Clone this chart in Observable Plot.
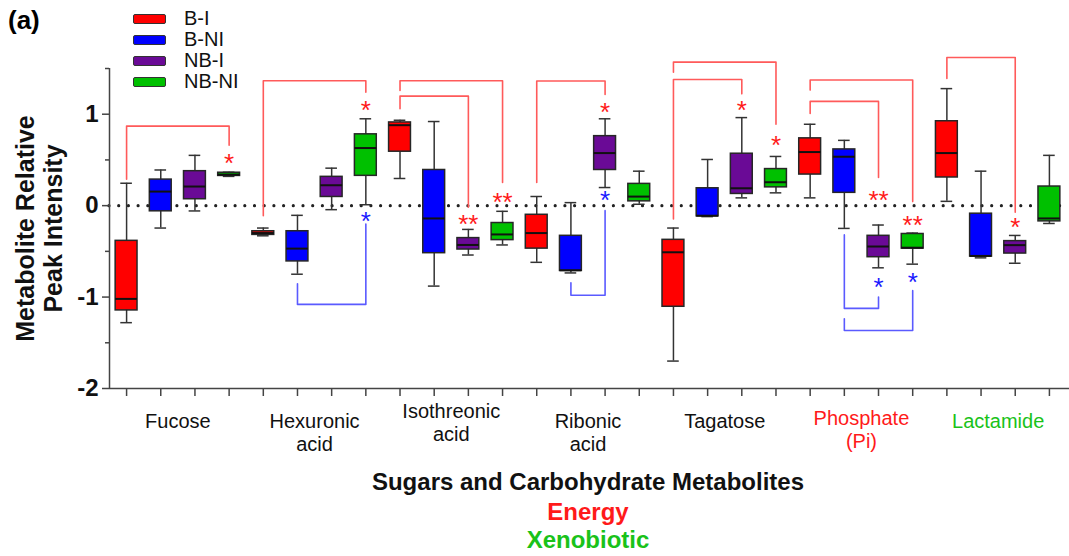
<!DOCTYPE html>
<html><head><meta charset="utf-8">
<script src="https://cdn.jsdelivr.net/npm/d3@7"></script>
<script src="https://cdn.jsdelivr.net/npm/@observablehq/plot@0.6"></script>
<style>
body{margin:0;background:#fff;font-family:"Liberation Sans",Arial,sans-serif;}
#wrap{position:relative;width:1069px;height:556px;overflow:hidden;background:#fff}
#tag{position:absolute;left:8px;top:5px;font-size:26px;font-weight:bold;color:#000}
#legend{position:absolute;left:133px;top:8px}
.item{display:flex;align-items:center;height:21px;font-size:20px;color:#111}
.sw{width:31px;height:8px;border:1.5px solid #333;border-radius:2px;margin-right:18px}
</style></head><body>
<div id="wrap"><div id="chart"></div><div id="tag">(a)</div><div id="legend"></div></div>
<script>
// ---------- data ----------
const categories = ["Fucose", "Hexuronic\nacid", "Isothreonic\nacid", "Ribonic\nacid", "Tagatose", "Phosphate\n(Pi)", "Lactamide"];
const categoryColors = ["#111", "#111", "#111", "#111", "#111", "#ff1a1a", "#19c219"];
const groups = ["B-I", "B-NI", "NB-I", "NB-NI"];
const groupColors = ["#ff0000", "#0000ff", "#6a0a96", "#00c000"];

// box statistics, 4 groups (B-I, B-NI, NB-I, NB-NI) per category
const whiskerLow = [
  -1.28, -0.245, -0.058, 0.32,     // Fucose
  -0.33, -0.75, -0.044, 0.01,      // Hexuronic acid
  0.297, -0.88, -0.54, -0.43,      // Isothreonic acid
  -0.62, -0.736, 0.198, 0.015,     // Ribonic acid
  -1.70, -0.12, 0.085, 0.14,       // Tagatose
  0.085, -0.249, -0.68, -0.64,     // Phosphate
  0.047, -0.571, -0.63, -0.195     // Lactamide
];
const quartile1 = [
  -1.146, -0.062, 0.07, 0.325,
  -0.32, -0.61, 0.095, 0.326,
  0.59, -0.52, -0.48, -0.377,
  -0.47, -0.714, 0.39, 0.047,
  -1.106, -0.117, 0.128, 0.20,
  0.34, 0.14, -0.564, -0.47,
  0.308, -0.557, -0.524, -0.172
];
const median = [
  -1.02, 0.154, 0.209, 0.34,
  -0.30, -0.47, 0.223, 0.63,
  0.88, -0.14, -0.43, -0.315,
  -0.30, -0.707, 0.575, 0.099,
  -0.51, -0.11, 0.19, 0.256,
  0.586, 0.535, -0.447, -0.46,
  0.575, -0.55, -0.432, -0.14
];
const quartile3 = [
  -0.385, 0.285, 0.377, 0.36,
  -0.28, -0.28, 0.315, 0.78,
  0.91, 0.39, -0.355, -0.19,
  -0.10, -0.33, 0.76, 0.238,
  -0.374, 0.19, 0.568, 0.40,
  0.736, 0.615, -0.33, -0.31,
  0.923, -0.088, -0.388, 0.209
];
const whiskerHigh = [
  0.245, 0.39, 0.55, 0.365,
  -0.245, -0.106, 0.41, 0.95,
  0.934, 0.92, -0.26, -0.062,
  0.10, 0.033, 0.95, 0.377,
  -0.245, 0.505, 0.963, 0.538,
  0.89, 0.714, -0.212, -0.30,
  1.28, 0.377, -0.326, 0.55
];

// significance brackets: box index from -> to, leg ends and bar level
const bracketFrom    = [0, 4, 8, 8, 12, 16, 16, 20, 20, 24, 5, 13, 21, 21];
const bracketTo      = [3, 7, 11, 10, 14, 19, 18, 23, 22, 26, 7, 14, 22, 23];
const bracketFromEnd = [0.29, -0.11, 1.26, 1.06, 0.253, 1.46, -0.146, 1.264, 1.008, 1.39, -0.854, -0.843, -0.32, -1.238];
const bracketLevel   = [0.87, 1.366, 1.366, 1.198, 1.363, 1.57, 1.38, 1.374, 1.14, 1.62, -1.08, -0.98, -1.124, -1.366];
const bracketToEnd   = [0.66, 1.24, 0.253, -0.018, 1.216, 0.89, 1.223, 0.044, 0.308, -0.073, -0.2, -0.055, -1.0, -0.93];
const bracketKind    = ["I","I","I","I","I","I","I","I","I","I","NI","NI","NI","NI"];

// asterisks
const starBox   = [3, 7, 10, 11, 14, 18, 19, 22, 23, 26, 7, 14, 22, 23];
const starValue = [0.50, 1.08, -0.165, 0.08, 1.06, 1.08, 0.696, 0.10, -0.17, -0.20, -0.128, 0.10, -0.85, -0.80];
const starText  = ["*", "*", "**", "**", "*", "*", "*", "**", "**", "*", "*", "*", "*", "*"];
const starKind  = ["I","I","I","I","I","I","I","I","I","I","NI","NI","NI","NI"];

const yMajorTicks = [-2, -1, 0, 1];
const yMinorTicks = [-1.5, -0.5, 0.5, 1.5];
const xTitle = ["Sugars and Carbohydrate Metabolites", "Energy", "Xenobiotic"];
const yTitle = "Metabolite Relative\nPeak Intensity";

// ---------- build tables ----------
const rows = [];
categories.forEach((c, ci) => groups.forEach((g, gi) => {
  const k = ci * 4 + gi;
  rows.push({key: k, cat: c, group: g, lo: whiskerLow[k], q1: quartile1[k], med: median[k], q3: quartile3[k], hi: whiskerHigh[k]});
}));
const bracketPts = [];
bracketFrom.forEach((f, i) => {
  const t = bracketTo[i], kind = bracketKind[i];
  bracketPts.push({b: i, kind, x: f, y: bracketFromEnd[i]});
  bracketPts.push({b: i, kind, x: f, y: bracketLevel[i]});
  bracketPts.push({b: i, kind, x: t, y: bracketLevel[i]});
  bracketPts.push({b: i, kind, x: t, y: bracketToEnd[i]});
});
const stars = starBox.map((k, i) => ({x: k, y: starValue[i], text: starText[i], kind: starKind[i]}));

// ---------- layout ----------
const FONT = '"Liberation Sans", Arial, sans-serif';
const xDomain = [-0.5, rows.length - 0.5];
const yDomain = [-2, 1.5];
const boxHalf = 0.32, capHalf = 0.17;
const labelDy = [23, 23, 13, 23, 23, 20, 23];
const titleDy = [94, 124, 152];
const titleColors = ["#111", "#ff1a1a", "#19c219"];
const redLine = "#ff5a5a", blueLine = "#5a5aff";

const marks = [
  Plot.ruleY([0], {stroke: "#222", strokeWidth: 3.2, strokeDasharray: "0 9.7", strokeLinecap: "round"}),
  // whiskers
  Plot.ruleX(rows, {x: "key", y1: "lo", y2: "hi", stroke: "#333", strokeWidth: 1.5}),
  Plot.ruleY(rows, {y: "hi", x1: d => d.key - capHalf, x2: d => d.key + capHalf, stroke: "#333", strokeWidth: 1.5}),
  Plot.ruleY(rows, {y: "lo", x1: d => d.key - capHalf, x2: d => d.key + capHalf, stroke: "#333", strokeWidth: 1.5}),
  // boxes
  Plot.rect(rows, {x1: d => d.key - boxHalf, x2: d => d.key + boxHalf, y1: "q1", y2: "q3", fill: "group", stroke: "#262626", strokeWidth: 1.5}),
  Plot.ruleY(rows, {y: "med", x1: d => d.key - boxHalf, x2: d => d.key + boxHalf, stroke: "#111", strokeWidth: 2}),
  // brackets
  Plot.line(bracketPts.filter(d => d.kind === "I"), {x: "x", y: "y", z: "b", stroke: redLine, strokeWidth: 1.6, curve: "linear"}),
  Plot.line(bracketPts.filter(d => d.kind === "NI"), {x: "x", y: "y", z: "b", stroke: blueLine, strokeWidth: 1.6, curve: "linear"}),
  // asterisks
  Plot.text(stars.filter(d => d.kind === "I"), {x: "x", y: "y", text: "text", fill: "#ff1a1a", fontSize: 26, dy: 4, lineAnchor: "middle"}),
  Plot.text(stars.filter(d => d.kind === "NI"), {x: "x", y: "y", text: "text", fill: "#1a1aff", fontSize: 26, dy: 4, lineAnchor: "middle"}),
  // axes lines
  Plot.ruleX([xDomain[0]], {y1: yDomain[0], y2: yDomain[1], stroke: "#444", strokeWidth: 1.5}),
  Plot.ruleY([yDomain[0]], {x1: xDomain[0], x2: xDomain[1] + 0.1, stroke: "#444", strokeWidth: 1.5}),
  Plot.axisY({ticks: yMajorTicks, tickSize: 7, tickPadding: 4, fontSize: 24, fontWeight: "bold", stroke: "#444", strokeWidth: 1.5, fill: "#111", label: null, tickFormat: d => d < 0 ? "-" + Math.abs(d) : String(d)}),
  Plot.axisY({ticks: yMinorTicks, tickSize: 4, stroke: "#444", strokeWidth: 1.5, label: null, tickFormat: () => ""}),
  Plot.axisX({ticks: d3.range(rows.length), tickSize: 8, stroke: "#444", strokeWidth: 1.5, label: null, tickFormat: () => ""}),
  // y title
  Plot.text([yTitle], {frameAnchor: "left", textAnchor: "middle", rotate: -90, dx: -70, fontSize: 25, fontWeight: "bold", lineHeight: 1.12, lineAnchor: "middle", fill: "#111"}),
];
// category labels
categories.forEach((c, i) => {
  marks.push(Plot.text([c], {x: () => i * 4 + 1.5, frameAnchor: "bottom", lineAnchor: "top", dy: labelDy[i], fontSize: 20, lineHeight: 1.15, fill: categoryColors[i]}));
});
// x titles
xTitle.forEach((t, i) => {
  marks.push(Plot.text([t], {frameAnchor: "bottom", lineAnchor: "middle", dy: titleDy[i], fontSize: 24, fontWeight: "bold", fill: titleColors[i]}));
});

const chart = Plot.plot({
  width: 1069, height: 556,
  marginLeft: 109, marginRight: 3, marginTop: 68, marginBottom: 168,
  x: {domain: xDomain, axis: null},
  y: {domain: yDomain, axis: null},
  color: {domain: groups, range: groupColors},
  style: {fontFamily: FONT, background: "white", overflow: "visible"},
  marks
});
document.getElementById("chart").appendChild(chart);

// legend
const lg = document.getElementById("legend");
groups.forEach((g, i) => {
  const it = document.createElement("div");
  it.className = "item";
  it.innerHTML = `<span class="sw" style="background:${groupColors[i]}"></span><span>${g}</span>`;
  lg.appendChild(it);
});
</script>
</body></html>
